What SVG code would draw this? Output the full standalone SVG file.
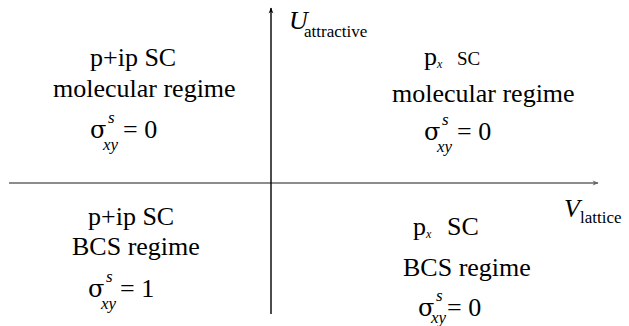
<svg xmlns="http://www.w3.org/2000/svg" width="629" height="326" viewBox="0 0 629 326">
<style>
text{fill:#000}
line{stroke-width:1.4;fill:none}
</style>
<defs>
<marker id="ahg" viewBox="0 0 10 10" refX="9" refY="5" markerWidth="12" markerHeight="6" orient="auto" markerUnits="userSpaceOnUse">
<path d="M0,1 L10,5 L0,9 L3,5 Z" fill="#666"/>
</marker>
<marker id="ahk" viewBox="0 0 10 10" refX="9" refY="5" markerWidth="10" markerHeight="6" orient="auto" markerUnits="userSpaceOnUse">
<path d="M0,1 L10,5 L0,9 L3,5 Z" fill="#000"/>
</marker>
</defs>
<g id="connectors">
<line x1="9" y1="183" x2="598" y2="183" stroke="#666" marker-end="url(#ahg)"/>
<line x1="271" y1="314" x2="271" y2="8" stroke="#000" marker-end="url(#ahk)"/>
</g>
<g id="axis-u">
<text x="289" y="29" font-family="Times New Roman" font-size="26" font-style="italic">U</text>
<text x="304" y="37" font-family="Times New Roman" font-size="17">attractive</text>
</g>
<g id="axis-v">
<text x="564" y="217" font-family="Times New Roman" font-size="26" font-style="italic">V</text>
<text x="580" y="223" font-family="Times New Roman" font-size="17">lattice</text>
</g>
<g id="top-left">
<text x="90" y="66" font-family="Times New Roman" font-size="26">p+ip SC</text>
<text x="53" y="97" font-family="Times New Roman" font-size="26">molecular regime</text>
<text x="90" y="138" font-family="DejaVu Serif" font-size="24">&#963;</text>
<text x="108" y="123" font-family="Times New Roman" font-size="17" font-style="italic">s</text>
<text x="103" y="150" font-family="Times New Roman" font-size="17" font-style="italic">xy</text>
<text x="123" y="138" font-family="Times New Roman" font-size="26">= 0</text>
</g>
<g id="top-right">
<text x="424" y="65" font-family="Times New Roman" font-size="26">p</text>
<text x="437" y="68" font-family="Times New Roman" font-size="12" font-style="italic">x</text>
<text x="457" y="65" font-family="Times New Roman" font-size="19">SC</text>
<text x="392" y="102" font-family="Times New Roman" font-size="26">molecular regime</text>
<text x="424" y="140" font-family="DejaVu Serif" font-size="24">&#963;</text>
<text x="442" y="125" font-family="Times New Roman" font-size="17" font-style="italic">s</text>
<text x="437" y="152" font-family="Times New Roman" font-size="17" font-style="italic">xy</text>
<text x="457" y="140" font-family="Times New Roman" font-size="26">= 0</text>
</g>
<g id="bottom-left">
<text x="88" y="225" font-family="Times New Roman" font-size="26">p+ip SC</text>
<text x="72" y="255" font-family="Times New Roman" font-size="26">BCS regime</text>
<text x="88" y="297" font-family="DejaVu Serif" font-size="24">&#963;</text>
<text x="106" y="282" font-family="Times New Roman" font-size="17" font-style="italic">s</text>
<text x="101" y="309" font-family="Times New Roman" font-size="17" font-style="italic">xy</text>
<text x="120" y="297" font-family="Times New Roman" font-size="26">= 1</text>
</g>
<g id="bottom-right">
<text x="413" y="235" font-family="Times New Roman" font-size="26">p</text>
<text x="426" y="238" font-family="Times New Roman" font-size="12" font-style="italic">x</text>
<text x="447" y="235" font-family="Times New Roman" font-size="26">SC</text>
<text x="403" y="276" font-family="Times New Roman" font-size="26">BCS regime</text>
<text x="418" y="316" font-family="DejaVu Serif" font-size="24">&#963;</text>
<text x="436" y="301" font-family="Times New Roman" font-size="17" font-style="italic">s</text>
<text x="431" y="323" font-family="Times New Roman" font-size="17" font-style="italic">xy</text>
<text x="447" y="316" font-family="Times New Roman" font-size="26">= 0</text>
</g>
</svg>
